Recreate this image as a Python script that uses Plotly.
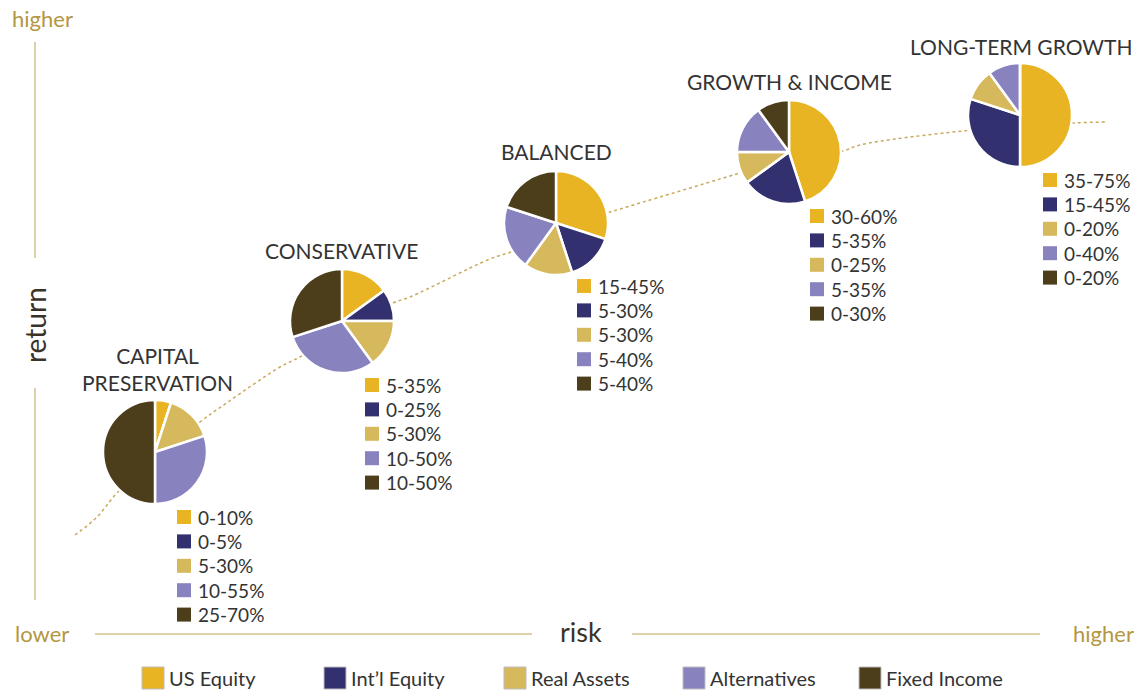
import plotly.graph_objects as go

# ---------------- data ----------------
asset_classes = ["US Equity", "Int\u2019l Equity", "Real Assets", "Alternatives", "Fixed Income"]
asset_colors = ["#E8B423", "#33306F", "#D6B95C", "#8883BF", "#4C3E1B"]

portfolios = ["CAPITAL<br>PRESERVATION", "CONSERVATIVE", "BALANCED", "GROWTH & INCOME", "LONG-TERM GROWTH"]

capital_preservation = [5, 0, 15, 30, 50]
conservative = [15, 10, 15, 30, 30]
balanced = [30, 15, 15, 20, 20]
growth_income = [45, 20, 10, 15, 10]
long_term_growth = [50, 30, 10, 10, 0]

capital_preservation_ranges = ["0-10%", "0-5%", "5-30%", "10-55%", "25-70%"]
conservative_ranges = ["5-35%", "0-25%", "5-30%", "10-50%", "10-50%"]
balanced_ranges = ["15-45%", "5-30%", "5-30%", "5-40%", "5-40%"]
growth_income_ranges = ["30-60%", "5-35%", "0-25%", "5-35%", "0-30%"]
long_term_growth_ranges = ["35-75%", "15-45%", "0-20%", "0-40%", "0-20%"]

# risk/return trend (decorative dotted curve)
trend_risk = [75, 97, 117, 160, 200, 228, 280, 300, 393, 410, 490, 517, 607, 620, 730, 750, 843, 860, 963, 1073, 1108]
trend_return = [535, 517, 493, 455, 422, 402, 367, 357, 303, 297, 259, 250, 213, 209, 176, 170, 151, 145, 131, 123, 122]

allocations = [capital_preservation, conservative, balanced, growth_income, long_term_growth]
ranges = [capital_preservation_ranges, conservative_ranges, balanced_ranges,
          growth_income_ranges, long_term_growth_ranges]

# ---------------- layout geometry (pixels) ----------------
W, H = 1135, 690
pie_centers = [(155, 452), (342, 321), (556, 223), (789, 152), (1020, 115)]
pie_r = 52
title_pos = [(157, 369), (341, 250), (556, 151), (789, 81), (1021, 46)]
list_pos = [(184, 517), (372, 385), (584, 286), (817, 216), (1050, 180)]
row_gap = 24.4

GOLD = "#B4973F"
LINE = "#D3C08C"
TXT = "#333333"
FONT = "Lato"

fig = go.Figure()

# dotted trend curve
fig.add_trace(go.Scatter(x=trend_risk, y=trend_return, mode="lines",
                         line=dict(color="#C9A95C", width=1.5, dash="dot", shape="spline"),
                         hoverinfo="skip", showlegend=False))

annotations = []
for i, (vals, rng) in enumerate(zip(allocations, ranges)):
    cx, cy = pie_centers[i]
    fig.add_trace(go.Pie(
        values=vals, labels=asset_classes, sort=False, direction="clockwise", rotation=0,
        marker=dict(colors=asset_colors, line=dict(color="white", width=2.5)),
        textinfo="none", hoverinfo="label+value", showlegend=False,
        domain=dict(x=[(cx - pie_r) / W, (cx + pie_r) / W],
                    y=[1 - (cy + pie_r) / H, 1 - (cy - pie_r) / H])))
    tx, ty = title_pos[i]
    annotations.append(dict(x=tx, y=ty, xref="x", yref="y", text=portfolios[i], showarrow=False,
                            font=dict(family=FONT, size=21, color=TXT), align="center"))
    lx, ly = list_pos[i]
    ys = [ly + k * row_gap for k in range(len(rng))]
    fig.add_trace(go.Scatter(x=[lx] * len(rng), y=ys, mode="markers",
                             marker=dict(symbol="square", size=14, color=asset_colors, line=dict(width=0)),
                             hoverinfo="skip", showlegend=False))
    for k, t in enumerate(rng):
        annotations.append(dict(x=lx + 12, y=ys[k], xref="x", yref="y", text=t, showarrow=False,
                                xanchor="left", font=dict(family=FONT, size=19, color=TXT)))

# bottom legend
leg_x = [153, 335, 515, 694, 870]
leg_y = 678
fig.add_trace(go.Scatter(x=leg_x, y=[leg_y] * 5, mode="markers",
                         marker=dict(symbol="square", size=22, color=asset_colors,
                                     line=dict(color="#BDBDBD", width=1)),
                         hoverinfo="skip", showlegend=False))
for k, name in enumerate(asset_classes):
    annotations.append(dict(x=leg_x[k] + 14, y=leg_y, xref="x", yref="y", text=name, showarrow=False,
                            xanchor="left", font=dict(family=FONT, size=20, color=TXT)))

# axis labels
annotations += [
    dict(x=42, y=18, xref="x", yref="y", text="higher", showarrow=False,
         font=dict(family=FONT, size=22, color=GOLD)),
    dict(x=42, y=633, xref="x", yref="y", text="lower", showarrow=False,
         font=dict(family=FONT, size=22, color=GOLD)),
    dict(x=1103, y=633, xref="x", yref="y", text="higher", showarrow=False,
         font=dict(family=FONT, size=22, color=GOLD)),
    dict(x=581, y=631, xref="x", yref="y", text="risk", showarrow=False,
         font=dict(family=FONT, size=27, color="#3A3226")),
    dict(x=35, y=325, xref="x", yref="y", text="return", showarrow=False, textangle=-90,
         font=dict(family=FONT, size=28, color="#3A3226")),
]

shapes = [
    dict(type="line", xref="x", yref="y", x0=35, x1=35, y0=42, y1=258, line=dict(color=LINE, width=1.5)),
    dict(type="line", xref="x", yref="y", x0=35, x1=35, y0=388, y1=600, line=dict(color=LINE, width=1.5)),
    dict(type="line", xref="x", yref="y", x0=95, x1=532, y0=634, y1=634, line=dict(color=LINE, width=1.5)),
    dict(type="line", xref="x", yref="y", x0=632, x1=1040, y0=634, y1=634, line=dict(color=LINE, width=1.5)),
]

fig.update_layout(
    width=W, height=H, margin=dict(l=0, r=0, t=0, b=0),
    paper_bgcolor="white", plot_bgcolor="white",
    xaxis=dict(range=[0, W], visible=False, fixedrange=True),
    yaxis=dict(range=[H, 0], visible=False, fixedrange=True),
    annotations=annotations, shapes=shapes, showlegend=False,
)

fig.write_html("out.html", config=dict(displayModeBar=False),
               post_script="document.body.style.margin='0';document.body.style.overflow='hidden';")
